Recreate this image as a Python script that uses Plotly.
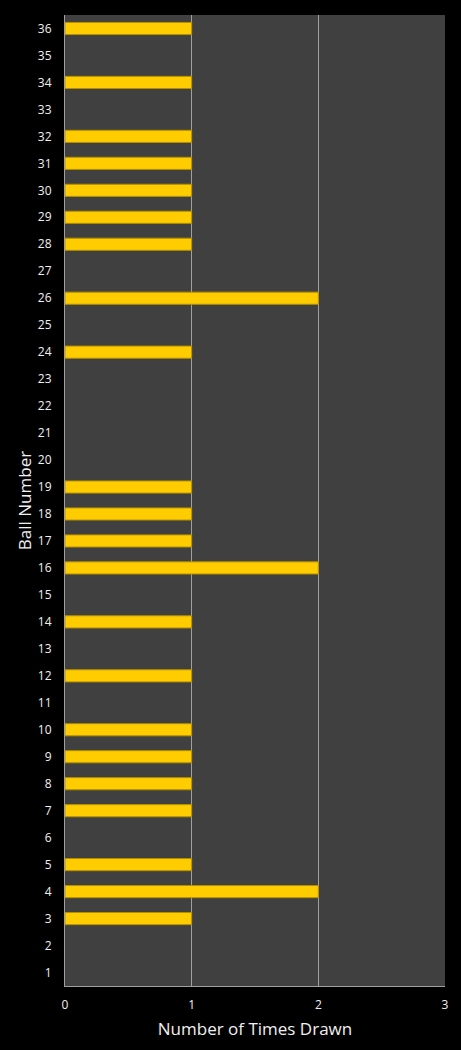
import plotly.graph_objects as go

balls = list(range(1, 37))
times_drawn = [0, 0, 1, 2, 1, 0, 1, 1, 1, 1, 0, 1, 0, 1, 0, 2, 1, 1, 1, 0,
               0, 0, 0, 1, 0, 2, 0, 1, 1, 1, 1, 1, 0, 1, 0, 1]
x_ticks = [0, 1, 2, 3]

line_widths = [1 if v > 0 else 0 for v in times_drawn]

fig = go.Figure()
fig.add_trace(go.Bar(
    x=times_drawn, y=balls, orientation="h",
    marker=dict(color="#FFCC00", line=dict(color="#B38F00", width=line_widths)),
    width=0.45,
))

fig.update_layout(
    width=461, height=1050,
    margin=dict(l=65, r=16, t=15, b=64),
    paper_bgcolor="#000000", plot_bgcolor="#404040",
    font=dict(family="Open Sans, Liberation Sans, sans-serif", color="#F0F0F0", size=12),
    showlegend=False,
)
fig.update_xaxes(
    range=[0, 3], tickvals=x_ticks, showgrid=True, gridcolor="#A0A0A0", gridwidth=1,
    showline=True, linecolor="#A0A0A0", linewidth=1, zeroline=False,
    ticks="outside", ticklen=8, tickcolor="rgba(0,0,0,0)",
    title=dict(text="Number of Times Drawn", font=dict(size=17), standoff=10),
    tickfont=dict(size=12),
)
fig.update_yaxes(
    range=[0.5, 36.5], tickvals=balls, showgrid=False,
    showline=True, linecolor="#A0A0A0", linewidth=1, zeroline=False,
    ticks="outside", ticklen=10, tickcolor="rgba(0,0,0,0)",
    title=dict(text="Ball Number", font=dict(size=17), standoff=1),
    tickfont=dict(size=12),
)

fig.write_html("out.html")
